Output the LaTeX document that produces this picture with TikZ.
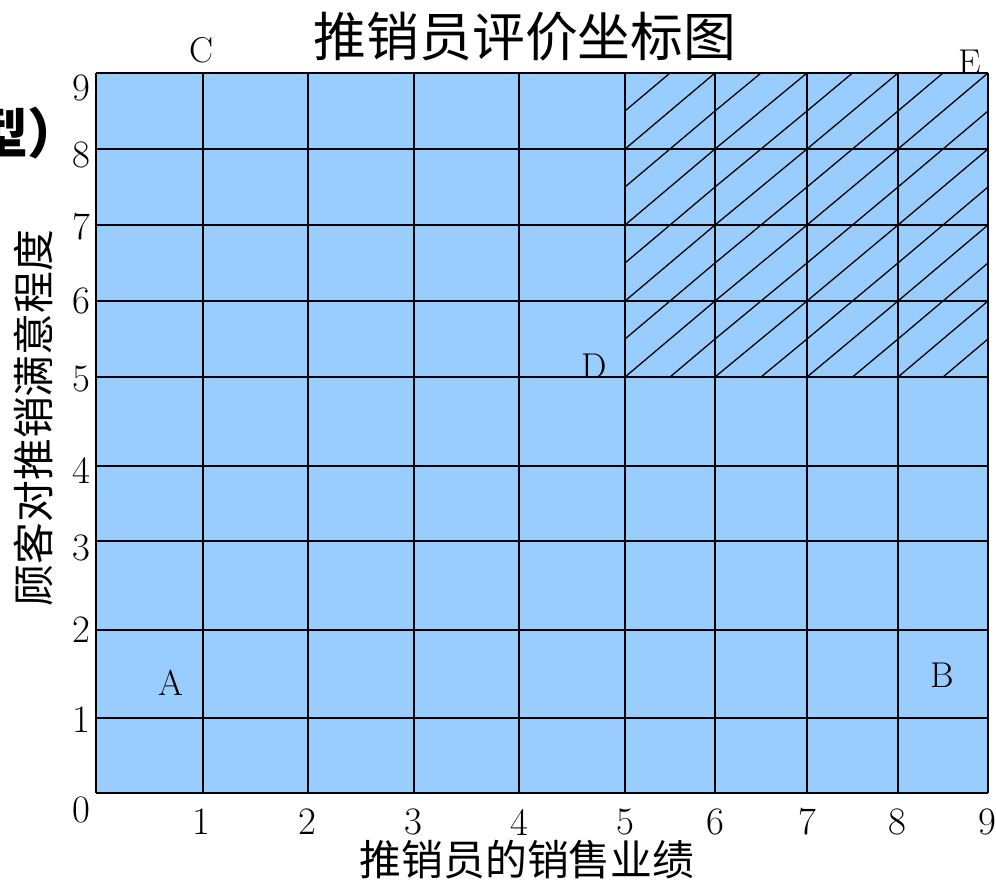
\documentclass[tikz,border=0pt]{standalone}
\usepackage{fontspec}
\newfontfamily\cjk{Noto Sans CJK SC}
\definecolor{cellblue}{RGB}{153,204,255}
\tikzset{
  gridline/.style={line width=1.7bp, black},
  hatchline/.style={line width=1.3bp, black},
  num/.style={inner sep=0pt, font=\fontsize{39}{39}\selectfont},
  letter/.style={inner sep=0pt, font=\fontsize{36}{36}\selectfont},
}
\begin{document}
\begin{tikzpicture}[x=1bp,y=-1bp]
\useasboundingbox (0,0) rectangle (996,884);
% background cells
\fill[cellblue] (96,73) rectangle (988,793);
% hatching in the upper-right region
\foreach \a/\b in {625/715,715/807,807/898,898/988}{
  \foreach \c/\d in {73/149,149/225,225/301,301/377}{
    \draw[hatchline] (\a,\d) -- (\b,\c);
    \draw[hatchline] (\a,{(\c+\d)/2}) -- ({(\a+\b)/2},\c);
    \draw[hatchline] ({(\a+\b)/2},\d) -- (\b,{(\c+\d)/2});
  }
}
% grid
\foreach \x in {96,203,308,414,519,625,715,807,898,988}
  \draw[gridline] (\x,73) -- (\x,793);
\foreach \y in {73,149,225,301,377,466,541,630,718,793}
  \draw[gridline] (96,\y) -- (988,\y);
% y-axis numbers
\foreach \n/\y in {9/88,8/155,7/227,6/301,5/379,4/470,3/548,2/630,1/720}
  \node[num] (y\n) at (81,\y) {\n};
\node[num] (o) at (81,810) {0};
% x-axis numbers
\foreach \n/\x in {1/201,2/307,3/413,4/519,5/625,6/715,7/807,8/897,9/987}
  \node[num] (x\n) at (\x,822) {\n};
% point letters
\node[letter] (C) at (201,50) {C};
\node[letter] (E) at (970,62) {E};
\node[letter] (D) at (594,366) {D};
\node[letter] (A) at (171,683) {A};
\node[letter] (B) at (942,675) {B};
% title and axis labels
\node[inner sep=0pt, font=\cjk\fontsize{53}{53}\selectfont] (title) at (525,37) {推销员评价坐标图};
\node[inner sep=0pt, font=\cjk\fontsize{42}{42}\selectfont] (xlabel) at (527,860) {推销员的销售业绩};
\node[inner sep=0pt, rotate=90, font=\cjk\fontsize{42}{42}\selectfont] (ylabel) at (33,418) {顾客对推销满意程度};
% clipped text at left edge
\node[inner sep=0pt, anchor=west, font=\cjk\bfseries\fontsize{54}{54}\selectfont] (cut) at (-26,133) {型）};
\end{tikzpicture}
\end{document}
